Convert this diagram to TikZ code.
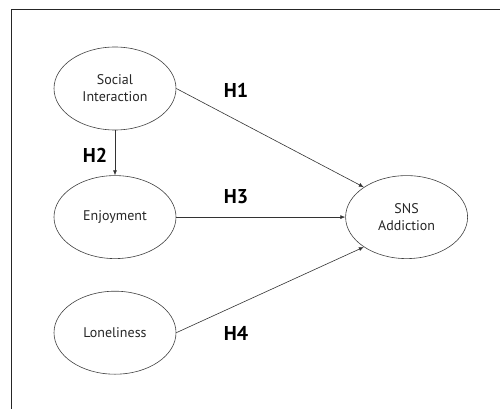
\documentclass[tikz,border=0pt]{standalone}
\usepackage{fontspec}
\setmainfont{PT Sans}
\usetikzlibrary{positioning, arrows.meta, shapes.geometric}
\tikzset{%
  edh/.style={-{Latex[length=5pt, width=4pt]}, line width=0.6pt, color=black!80},
  var/.style={draw=black!75, line width=0.6pt, ellipse, minimum width=122pt, minimum height=83pt,
    inner sep=0pt, align=center, text=black!85, font=\fontsize{14}{17}\selectfont},
  hyp/.style={font=\fontsize{20}{24}\selectfont\bfseries}
}

\begin{document}
\begin{tikzpicture}[x=1pt, y=-1pt]
        \useasboundingbox (0,0) rectangle (500,409);
        \draw[line width=1pt, black!85] (11.5,409) -- (11.5,9.5) -- (500,9.5);
        \node[var] (si)  at (115,88.5)          {Social\\Interaction};
        \node[var] (en)  [below = 45pt of si]   {Enjoyment};
        \node[var] (lo)  [below = 32pt of en]   {Loneliness};
        \node[var] (sa)  [right = 169pt of en]  {SNS\\Addiction};
        \node[hyp] (h1)  at (236,90.5)  {H1};
        \node[hyp] (h2)  at (95,155)    {H2};
        \node[hyp] (h3)  at (236,197)   {H3};
        \node[hyp] (h4)  at (236,333.5) {H4};
        \path[edh]
        (si) edge (en)
        (si.east) edge (sa.145)
        (en) edge (sa)
        (lo.east) edge (sa.215);
      \end{tikzpicture}
\end{document}
